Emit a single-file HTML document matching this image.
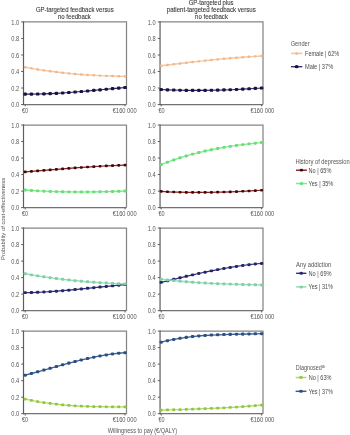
<!DOCTYPE html><html><head><meta charset="utf-8"><style>html,body{margin:0;padding:0;background:#fff;width:350px;height:435px;overflow:hidden}svg{display:block;filter:blur(0.25px)}text{font-family:"Liberation Sans",sans-serif;fill:#555555}</style></head><body>
<svg width="350" height="435" viewBox="0 0 350 435">
<text x="74.80" y="11.80" font-size="6.6" text-anchor="middle" textLength="77.8" lengthAdjust="spacingAndGlyphs" style="fill:#383838;stroke:#383838;stroke-width:0.1px">GP-targeted feedback versus</text>
<text x="74.40" y="18.70" font-size="6.6" text-anchor="middle" textLength="32.8" lengthAdjust="spacingAndGlyphs" style="fill:#383838;stroke:#383838;stroke-width:0.1px">no feedback</text>
<text x="211.10" y="4.60" font-size="6.6" text-anchor="middle" textLength="44.8" lengthAdjust="spacingAndGlyphs" style="fill:#383838;stroke:#383838;stroke-width:0.1px">GP-targeted plus</text>
<text x="211.30" y="11.65" font-size="6.6" text-anchor="middle" textLength="89.0" lengthAdjust="spacingAndGlyphs" style="fill:#383838;stroke:#383838;stroke-width:0.1px">patient-targeted feedback versus</text>
<text x="211.50" y="18.60" font-size="6.6" text-anchor="middle" textLength="32.8" lengthAdjust="spacingAndGlyphs" style="fill:#383838;stroke:#383838;stroke-width:0.1px">no feedback</text>
<path d="M23.50 21.95H126.50V104.55" fill="none" stroke="#858585" stroke-width="1.25"/>
<path d="M23.50 104.55H126.50" fill="none" stroke="#727272" stroke-width="1.2"/>
<path d="M23.50 21.35V105.15" fill="none" stroke="#5e5e5e" stroke-width="1.2"/>
<path d="M21.20 104.55H23.50" stroke="#5e5e5e" stroke-width="1"/>
<text x="19.20" y="107.10" font-size="6.3" text-anchor="end" textLength="7.9" lengthAdjust="spacingAndGlyphs">0.0</text>
<path d="M21.20 88.03H23.50" stroke="#5e5e5e" stroke-width="1"/>
<text x="19.20" y="90.58" font-size="6.3" text-anchor="end" textLength="7.9" lengthAdjust="spacingAndGlyphs">0.2</text>
<path d="M21.20 71.51H23.50" stroke="#5e5e5e" stroke-width="1"/>
<text x="19.20" y="74.06" font-size="6.3" text-anchor="end" textLength="7.9" lengthAdjust="spacingAndGlyphs">0.4</text>
<path d="M21.20 54.99H23.50" stroke="#5e5e5e" stroke-width="1"/>
<text x="19.20" y="57.54" font-size="6.3" text-anchor="end" textLength="7.9" lengthAdjust="spacingAndGlyphs">0.6</text>
<path d="M21.20 38.47H23.50" stroke="#5e5e5e" stroke-width="1"/>
<text x="19.20" y="41.02" font-size="6.3" text-anchor="end" textLength="7.9" lengthAdjust="spacingAndGlyphs">0.8</text>
<path d="M21.20 21.95H23.50" stroke="#5e5e5e" stroke-width="1"/>
<text x="19.20" y="24.50" font-size="6.3" text-anchor="end" textLength="7.9" lengthAdjust="spacingAndGlyphs">1.0</text>
<path d="M25.20 104.55V106.35" stroke="#5e5e5e" stroke-width="1"/>
<path d="M125.00 104.55V106.35" stroke="#5e5e5e" stroke-width="1"/>
<text x="22.00" y="113.15" font-size="6.3" text-anchor="start" textLength="6.1" lengthAdjust="spacingAndGlyphs">€0</text>
<text x="124.70" y="113.05" font-size="6.5" text-anchor="middle" textLength="23.8" lengthAdjust="spacingAndGlyphs">€160 000</text>
<path d="M25.20 67.26 L31.44 68.40 L37.67 69.44 L43.91 70.40 L50.15 71.27 L56.39 72.06 L62.62 72.77 L68.86 73.40 L75.10 73.97 L81.34 74.46 L87.58 74.90 L93.81 75.27 L100.05 75.58 L106.29 75.85 L112.53 76.06 L118.76 76.23 L125.00 76.35" fill="none" stroke="#f6c8a2" stroke-width="1.4"/>
<rect x="23.84" y="66.06" width="2.73" height="2.39" rx="0.91" fill="#f2b88c"/>
<rect x="30.07" y="67.20" width="2.73" height="2.39" rx="0.91" fill="#f2b88c"/>
<rect x="36.31" y="68.25" width="2.73" height="2.39" rx="0.91" fill="#f2b88c"/>
<rect x="42.55" y="69.20" width="2.73" height="2.39" rx="0.91" fill="#f2b88c"/>
<rect x="48.78" y="70.07" width="2.73" height="2.39" rx="0.91" fill="#f2b88c"/>
<rect x="55.02" y="70.86" width="2.73" height="2.39" rx="0.91" fill="#f2b88c"/>
<rect x="61.26" y="71.57" width="2.73" height="2.39" rx="0.91" fill="#f2b88c"/>
<rect x="67.50" y="72.21" width="2.73" height="2.39" rx="0.91" fill="#f2b88c"/>
<rect x="73.73" y="72.77" width="2.73" height="2.39" rx="0.91" fill="#f2b88c"/>
<rect x="79.97" y="73.27" width="2.73" height="2.39" rx="0.91" fill="#f2b88c"/>
<rect x="86.21" y="73.70" width="2.73" height="2.39" rx="0.91" fill="#f2b88c"/>
<rect x="92.45" y="74.07" width="2.73" height="2.39" rx="0.91" fill="#f2b88c"/>
<rect x="98.69" y="74.39" width="2.73" height="2.39" rx="0.91" fill="#f2b88c"/>
<rect x="104.92" y="74.65" width="2.73" height="2.39" rx="0.91" fill="#f2b88c"/>
<rect x="111.16" y="74.86" width="2.73" height="2.39" rx="0.91" fill="#f2b88c"/>
<rect x="117.40" y="75.03" width="2.73" height="2.39" rx="0.91" fill="#f2b88c"/>
<rect x="123.64" y="75.15" width="2.73" height="2.39" rx="0.91" fill="#f2b88c"/>
<path d="M25.20 94.11 L31.44 94.13 L37.67 94.06 L43.91 93.89 L50.15 93.65 L56.39 93.33 L62.62 92.95 L68.86 92.52 L75.10 92.04 L81.34 91.52 L87.58 90.97 L93.81 90.40 L100.05 89.82 L106.29 89.23 L112.53 88.65 L118.76 88.08 L125.00 87.54" fill="none" stroke="#2a2468" stroke-width="1.1"/>
<rect x="23.41" y="92.54" width="3.57" height="3.13" rx="1.19" fill="#18143f"/>
<rect x="29.65" y="92.57" width="3.57" height="3.13" rx="1.19" fill="#18143f"/>
<rect x="35.89" y="92.49" width="3.57" height="3.13" rx="1.19" fill="#18143f"/>
<rect x="42.13" y="92.33" width="3.57" height="3.13" rx="1.19" fill="#18143f"/>
<rect x="48.37" y="92.08" width="3.57" height="3.13" rx="1.19" fill="#18143f"/>
<rect x="54.60" y="91.77" width="3.57" height="3.13" rx="1.19" fill="#18143f"/>
<rect x="60.84" y="91.39" width="3.57" height="3.13" rx="1.19" fill="#18143f"/>
<rect x="67.08" y="90.95" width="3.57" height="3.13" rx="1.19" fill="#18143f"/>
<rect x="73.31" y="90.47" width="3.57" height="3.13" rx="1.19" fill="#18143f"/>
<rect x="79.55" y="89.96" width="3.57" height="3.13" rx="1.19" fill="#18143f"/>
<rect x="85.79" y="89.41" width="3.57" height="3.13" rx="1.19" fill="#18143f"/>
<rect x="92.03" y="88.84" width="3.57" height="3.13" rx="1.19" fill="#18143f"/>
<rect x="98.27" y="88.26" width="3.57" height="3.13" rx="1.19" fill="#18143f"/>
<rect x="104.50" y="87.67" width="3.57" height="3.13" rx="1.19" fill="#18143f"/>
<rect x="110.74" y="87.09" width="3.57" height="3.13" rx="1.19" fill="#18143f"/>
<rect x="116.98" y="86.52" width="3.57" height="3.13" rx="1.19" fill="#18143f"/>
<rect x="123.22" y="85.97" width="3.57" height="3.13" rx="1.19" fill="#18143f"/>
<path d="M160.05 21.95H263.00V104.55" fill="none" stroke="#858585" stroke-width="1.25"/>
<path d="M160.05 104.55H263.00" fill="none" stroke="#727272" stroke-width="1.2"/>
<path d="M160.05 21.35V105.15" fill="none" stroke="#5e5e5e" stroke-width="1.2"/>
<path d="M157.75 104.55H160.05" stroke="#5e5e5e" stroke-width="1"/>
<text x="155.75" y="107.10" font-size="6.3" text-anchor="end" textLength="7.9" lengthAdjust="spacingAndGlyphs">0.0</text>
<path d="M157.75 88.03H160.05" stroke="#5e5e5e" stroke-width="1"/>
<text x="155.75" y="90.58" font-size="6.3" text-anchor="end" textLength="7.9" lengthAdjust="spacingAndGlyphs">0.2</text>
<path d="M157.75 71.51H160.05" stroke="#5e5e5e" stroke-width="1"/>
<text x="155.75" y="74.06" font-size="6.3" text-anchor="end" textLength="7.9" lengthAdjust="spacingAndGlyphs">0.4</text>
<path d="M157.75 54.99H160.05" stroke="#5e5e5e" stroke-width="1"/>
<text x="155.75" y="57.54" font-size="6.3" text-anchor="end" textLength="7.9" lengthAdjust="spacingAndGlyphs">0.6</text>
<path d="M157.75 38.47H160.05" stroke="#5e5e5e" stroke-width="1"/>
<text x="155.75" y="41.02" font-size="6.3" text-anchor="end" textLength="7.9" lengthAdjust="spacingAndGlyphs">0.8</text>
<path d="M157.75 21.95H160.05" stroke="#5e5e5e" stroke-width="1"/>
<text x="155.75" y="24.50" font-size="6.3" text-anchor="end" textLength="7.9" lengthAdjust="spacingAndGlyphs">1.0</text>
<path d="M161.20 104.55V106.35" stroke="#5e5e5e" stroke-width="1"/>
<path d="M261.60 104.55V106.35" stroke="#5e5e5e" stroke-width="1"/>
<text x="158.55" y="113.15" font-size="6.3" text-anchor="start" textLength="6.1" lengthAdjust="spacingAndGlyphs">€0</text>
<text x="262.40" y="113.05" font-size="6.5" text-anchor="middle" textLength="23.8" lengthAdjust="spacingAndGlyphs">€160 000</text>
<path d="M161.20 65.72 L167.47 64.96 L173.75 64.21 L180.03 63.47 L186.30 62.74 L192.57 62.03 L198.85 61.33 L205.12 60.66 L211.40 60.01 L217.68 59.38 L223.95 58.78 L230.23 58.22 L236.50 57.69 L242.78 57.20 L249.05 56.74 L255.33 56.33 L261.60 55.97" fill="none" stroke="#f6c8a2" stroke-width="1.4"/>
<rect x="159.83" y="64.52" width="2.73" height="2.39" rx="0.91" fill="#f2b88c"/>
<rect x="166.11" y="63.77" width="2.73" height="2.39" rx="0.91" fill="#f2b88c"/>
<rect x="172.38" y="63.02" width="2.73" height="2.39" rx="0.91" fill="#f2b88c"/>
<rect x="178.66" y="62.28" width="2.73" height="2.39" rx="0.91" fill="#f2b88c"/>
<rect x="184.94" y="61.55" width="2.73" height="2.39" rx="0.91" fill="#f2b88c"/>
<rect x="191.21" y="60.83" width="2.73" height="2.39" rx="0.91" fill="#f2b88c"/>
<rect x="197.48" y="60.14" width="2.73" height="2.39" rx="0.91" fill="#f2b88c"/>
<rect x="203.76" y="59.46" width="2.73" height="2.39" rx="0.91" fill="#f2b88c"/>
<rect x="210.03" y="58.81" width="2.73" height="2.39" rx="0.91" fill="#f2b88c"/>
<rect x="216.31" y="58.19" width="2.73" height="2.39" rx="0.91" fill="#f2b88c"/>
<rect x="222.59" y="57.59" width="2.73" height="2.39" rx="0.91" fill="#f2b88c"/>
<rect x="228.86" y="57.02" width="2.73" height="2.39" rx="0.91" fill="#f2b88c"/>
<rect x="235.13" y="56.49" width="2.73" height="2.39" rx="0.91" fill="#f2b88c"/>
<rect x="241.41" y="56.00" width="2.73" height="2.39" rx="0.91" fill="#f2b88c"/>
<rect x="247.69" y="55.55" width="2.73" height="2.39" rx="0.91" fill="#f2b88c"/>
<rect x="253.96" y="55.14" width="2.73" height="2.39" rx="0.91" fill="#f2b88c"/>
<rect x="260.24" y="54.77" width="2.73" height="2.39" rx="0.91" fill="#f2b88c"/>
<path d="M161.20 89.54 L167.47 89.83 L173.75 90.05 L180.03 90.22 L186.30 90.33 L192.57 90.39 L198.85 90.40 L205.12 90.35 L211.40 90.26 L217.68 90.12 L223.95 89.93 L230.23 89.71 L236.50 89.44 L242.78 89.14 L249.05 88.80 L255.33 88.43 L261.60 88.03" fill="none" stroke="#2a2468" stroke-width="1.1"/>
<rect x="159.41" y="87.98" width="3.57" height="3.13" rx="1.19" fill="#18143f"/>
<rect x="165.69" y="88.26" width="3.57" height="3.13" rx="1.19" fill="#18143f"/>
<rect x="171.97" y="88.49" width="3.57" height="3.13" rx="1.19" fill="#18143f"/>
<rect x="178.24" y="88.66" width="3.57" height="3.13" rx="1.19" fill="#18143f"/>
<rect x="184.52" y="88.77" width="3.57" height="3.13" rx="1.19" fill="#18143f"/>
<rect x="190.79" y="88.83" width="3.57" height="3.13" rx="1.19" fill="#18143f"/>
<rect x="197.06" y="88.83" width="3.57" height="3.13" rx="1.19" fill="#18143f"/>
<rect x="203.34" y="88.79" width="3.57" height="3.13" rx="1.19" fill="#18143f"/>
<rect x="209.62" y="88.69" width="3.57" height="3.13" rx="1.19" fill="#18143f"/>
<rect x="215.89" y="88.55" width="3.57" height="3.13" rx="1.19" fill="#18143f"/>
<rect x="222.17" y="88.37" width="3.57" height="3.13" rx="1.19" fill="#18143f"/>
<rect x="228.44" y="88.15" width="3.57" height="3.13" rx="1.19" fill="#18143f"/>
<rect x="234.72" y="87.88" width="3.57" height="3.13" rx="1.19" fill="#18143f"/>
<rect x="240.99" y="87.58" width="3.57" height="3.13" rx="1.19" fill="#18143f"/>
<rect x="247.27" y="87.24" width="3.57" height="3.13" rx="1.19" fill="#18143f"/>
<rect x="253.54" y="86.87" width="3.57" height="3.13" rx="1.19" fill="#18143f"/>
<rect x="259.81" y="86.46" width="3.57" height="3.13" rx="1.19" fill="#18143f"/>
<path d="M23.50 125.00H126.50V207.60" fill="none" stroke="#858585" stroke-width="1.25"/>
<path d="M23.50 207.60H126.50" fill="none" stroke="#727272" stroke-width="1.2"/>
<path d="M23.50 124.40V208.20" fill="none" stroke="#5e5e5e" stroke-width="1.2"/>
<path d="M21.20 207.60H23.50" stroke="#5e5e5e" stroke-width="1"/>
<text x="19.20" y="210.15" font-size="6.3" text-anchor="end" textLength="7.9" lengthAdjust="spacingAndGlyphs">0.0</text>
<path d="M21.20 191.08H23.50" stroke="#5e5e5e" stroke-width="1"/>
<text x="19.20" y="193.63" font-size="6.3" text-anchor="end" textLength="7.9" lengthAdjust="spacingAndGlyphs">0.2</text>
<path d="M21.20 174.56H23.50" stroke="#5e5e5e" stroke-width="1"/>
<text x="19.20" y="177.11" font-size="6.3" text-anchor="end" textLength="7.9" lengthAdjust="spacingAndGlyphs">0.4</text>
<path d="M21.20 158.04H23.50" stroke="#5e5e5e" stroke-width="1"/>
<text x="19.20" y="160.59" font-size="6.3" text-anchor="end" textLength="7.9" lengthAdjust="spacingAndGlyphs">0.6</text>
<path d="M21.20 141.52H23.50" stroke="#5e5e5e" stroke-width="1"/>
<text x="19.20" y="144.07" font-size="6.3" text-anchor="end" textLength="7.9" lengthAdjust="spacingAndGlyphs">0.8</text>
<path d="M21.20 125.00H23.50" stroke="#5e5e5e" stroke-width="1"/>
<text x="19.20" y="127.55" font-size="6.3" text-anchor="end" textLength="7.9" lengthAdjust="spacingAndGlyphs">1.0</text>
<path d="M25.20 207.60V209.40" stroke="#5e5e5e" stroke-width="1"/>
<path d="M125.00 207.60V209.40" stroke="#5e5e5e" stroke-width="1"/>
<text x="22.00" y="216.20" font-size="6.3" text-anchor="start" textLength="6.1" lengthAdjust="spacingAndGlyphs">€0</text>
<text x="124.70" y="216.10" font-size="6.5" text-anchor="middle" textLength="23.8" lengthAdjust="spacingAndGlyphs">€160 000</text>
<path d="M25.20 171.94 L31.44 171.42 L37.67 170.90 L43.91 170.38 L50.15 169.86 L56.39 169.36 L62.62 168.86 L68.86 168.38 L75.10 167.91 L81.34 167.46 L87.58 167.03 L93.81 166.63 L100.05 166.25 L106.29 165.90 L112.53 165.58 L118.76 165.29 L125.00 165.04" fill="none" stroke="#951f1f" stroke-width="1.25"/>
<rect x="23.68" y="170.61" width="3.04" height="2.67" rx="1.01" fill="#3f090b"/>
<rect x="29.91" y="170.08" width="3.04" height="2.67" rx="1.01" fill="#3f090b"/>
<rect x="36.15" y="169.56" width="3.04" height="2.67" rx="1.01" fill="#3f090b"/>
<rect x="42.39" y="169.04" width="3.04" height="2.67" rx="1.01" fill="#3f090b"/>
<rect x="48.63" y="168.53" width="3.04" height="2.67" rx="1.01" fill="#3f090b"/>
<rect x="54.87" y="168.02" width="3.04" height="2.67" rx="1.01" fill="#3f090b"/>
<rect x="61.10" y="167.53" width="3.04" height="2.67" rx="1.01" fill="#3f090b"/>
<rect x="67.34" y="167.04" width="3.04" height="2.67" rx="1.01" fill="#3f090b"/>
<rect x="73.58" y="166.58" width="3.04" height="2.67" rx="1.01" fill="#3f090b"/>
<rect x="79.81" y="166.13" width="3.04" height="2.67" rx="1.01" fill="#3f090b"/>
<rect x="86.05" y="165.70" width="3.04" height="2.67" rx="1.01" fill="#3f090b"/>
<rect x="92.29" y="165.29" width="3.04" height="2.67" rx="1.01" fill="#3f090b"/>
<rect x="98.53" y="164.91" width="3.04" height="2.67" rx="1.01" fill="#3f090b"/>
<rect x="104.77" y="164.56" width="3.04" height="2.67" rx="1.01" fill="#3f090b"/>
<rect x="111.00" y="164.24" width="3.04" height="2.67" rx="1.01" fill="#3f090b"/>
<rect x="117.24" y="163.96" width="3.04" height="2.67" rx="1.01" fill="#3f090b"/>
<rect x="123.48" y="163.71" width="3.04" height="2.67" rx="1.01" fill="#3f090b"/>
<path d="M25.20 190.00 L31.44 190.46 L37.67 190.85 L43.91 191.17 L50.15 191.44 L56.39 191.64 L62.62 191.79 L68.86 191.89 L75.10 191.94 L81.34 191.95 L87.58 191.92 L93.81 191.86 L100.05 191.75 L106.29 191.62 L112.53 191.47 L118.76 191.29 L125.00 191.09" fill="none" stroke="#86e891" stroke-width="1.35"/>
<rect x="23.52" y="188.53" width="3.36" height="2.94" rx="1.12" fill="#66e077"/>
<rect x="29.76" y="188.99" width="3.36" height="2.94" rx="1.12" fill="#66e077"/>
<rect x="35.99" y="189.38" width="3.36" height="2.94" rx="1.12" fill="#66e077"/>
<rect x="42.23" y="189.70" width="3.36" height="2.94" rx="1.12" fill="#66e077"/>
<rect x="48.47" y="189.96" width="3.36" height="2.94" rx="1.12" fill="#66e077"/>
<rect x="54.71" y="190.17" width="3.36" height="2.94" rx="1.12" fill="#66e077"/>
<rect x="60.95" y="190.32" width="3.36" height="2.94" rx="1.12" fill="#66e077"/>
<rect x="67.18" y="190.42" width="3.36" height="2.94" rx="1.12" fill="#66e077"/>
<rect x="73.42" y="190.47" width="3.36" height="2.94" rx="1.12" fill="#66e077"/>
<rect x="79.66" y="190.48" width="3.36" height="2.94" rx="1.12" fill="#66e077"/>
<rect x="85.89" y="190.45" width="3.36" height="2.94" rx="1.12" fill="#66e077"/>
<rect x="92.13" y="190.38" width="3.36" height="2.94" rx="1.12" fill="#66e077"/>
<rect x="98.37" y="190.28" width="3.36" height="2.94" rx="1.12" fill="#66e077"/>
<rect x="104.61" y="190.15" width="3.36" height="2.94" rx="1.12" fill="#66e077"/>
<rect x="110.84" y="190.00" width="3.36" height="2.94" rx="1.12" fill="#66e077"/>
<rect x="117.08" y="189.82" width="3.36" height="2.94" rx="1.12" fill="#66e077"/>
<rect x="123.32" y="189.62" width="3.36" height="2.94" rx="1.12" fill="#66e077"/>
<path d="M160.05 125.00H263.00V207.60" fill="none" stroke="#858585" stroke-width="1.25"/>
<path d="M160.05 207.60H263.00" fill="none" stroke="#727272" stroke-width="1.2"/>
<path d="M160.05 124.40V208.20" fill="none" stroke="#5e5e5e" stroke-width="1.2"/>
<path d="M157.75 207.60H160.05" stroke="#5e5e5e" stroke-width="1"/>
<text x="155.75" y="210.15" font-size="6.3" text-anchor="end" textLength="7.9" lengthAdjust="spacingAndGlyphs">0.0</text>
<path d="M157.75 191.08H160.05" stroke="#5e5e5e" stroke-width="1"/>
<text x="155.75" y="193.63" font-size="6.3" text-anchor="end" textLength="7.9" lengthAdjust="spacingAndGlyphs">0.2</text>
<path d="M157.75 174.56H160.05" stroke="#5e5e5e" stroke-width="1"/>
<text x="155.75" y="177.11" font-size="6.3" text-anchor="end" textLength="7.9" lengthAdjust="spacingAndGlyphs">0.4</text>
<path d="M157.75 158.04H160.05" stroke="#5e5e5e" stroke-width="1"/>
<text x="155.75" y="160.59" font-size="6.3" text-anchor="end" textLength="7.9" lengthAdjust="spacingAndGlyphs">0.6</text>
<path d="M157.75 141.52H160.05" stroke="#5e5e5e" stroke-width="1"/>
<text x="155.75" y="144.07" font-size="6.3" text-anchor="end" textLength="7.9" lengthAdjust="spacingAndGlyphs">0.8</text>
<path d="M157.75 125.00H160.05" stroke="#5e5e5e" stroke-width="1"/>
<text x="155.75" y="127.55" font-size="6.3" text-anchor="end" textLength="7.9" lengthAdjust="spacingAndGlyphs">1.0</text>
<path d="M161.20 207.60V209.40" stroke="#5e5e5e" stroke-width="1"/>
<path d="M261.60 207.60V209.40" stroke="#5e5e5e" stroke-width="1"/>
<text x="158.55" y="216.20" font-size="6.3" text-anchor="start" textLength="6.1" lengthAdjust="spacingAndGlyphs">€0</text>
<text x="262.40" y="216.10" font-size="6.5" text-anchor="middle" textLength="23.8" lengthAdjust="spacingAndGlyphs">€160 000</text>
<path d="M161.20 191.44 L167.47 191.76 L173.75 192.02 L180.03 192.21 L186.30 192.34 L192.57 192.42 L198.85 192.44 L205.12 192.41 L211.40 192.32 L217.68 192.20 L223.95 192.03 L230.23 191.82 L236.50 191.57 L242.78 191.29 L249.05 190.97 L255.33 190.63 L261.60 190.25" fill="none" stroke="#951f1f" stroke-width="1.25"/>
<rect x="159.68" y="190.11" width="3.04" height="2.67" rx="1.01" fill="#3f090b"/>
<rect x="165.95" y="190.43" width="3.04" height="2.67" rx="1.01" fill="#3f090b"/>
<rect x="172.23" y="190.68" width="3.04" height="2.67" rx="1.01" fill="#3f090b"/>
<rect x="178.50" y="190.88" width="3.04" height="2.67" rx="1.01" fill="#3f090b"/>
<rect x="184.78" y="191.01" width="3.04" height="2.67" rx="1.01" fill="#3f090b"/>
<rect x="191.05" y="191.08" width="3.04" height="2.67" rx="1.01" fill="#3f090b"/>
<rect x="197.33" y="191.10" width="3.04" height="2.67" rx="1.01" fill="#3f090b"/>
<rect x="203.60" y="191.07" width="3.04" height="2.67" rx="1.01" fill="#3f090b"/>
<rect x="209.88" y="190.99" width="3.04" height="2.67" rx="1.01" fill="#3f090b"/>
<rect x="216.15" y="190.86" width="3.04" height="2.67" rx="1.01" fill="#3f090b"/>
<rect x="222.43" y="190.69" width="3.04" height="2.67" rx="1.01" fill="#3f090b"/>
<rect x="228.70" y="190.48" width="3.04" height="2.67" rx="1.01" fill="#3f090b"/>
<rect x="234.98" y="190.24" width="3.04" height="2.67" rx="1.01" fill="#3f090b"/>
<rect x="241.25" y="189.95" width="3.04" height="2.67" rx="1.01" fill="#3f090b"/>
<rect x="247.53" y="189.64" width="3.04" height="2.67" rx="1.01" fill="#3f090b"/>
<rect x="253.80" y="189.29" width="3.04" height="2.67" rx="1.01" fill="#3f090b"/>
<rect x="260.08" y="188.92" width="3.04" height="2.67" rx="1.01" fill="#3f090b"/>
<path d="M161.20 164.59 L167.47 162.16 L173.75 159.91 L180.03 157.83 L186.30 155.92 L192.57 154.15 L198.85 152.54 L205.12 151.06 L211.40 149.71 L217.68 148.48 L223.95 147.37 L230.23 146.36 L236.50 145.44 L242.78 144.62 L249.05 143.87 L255.33 143.20 L261.60 142.59" fill="none" stroke="#86e891" stroke-width="1.35"/>
<rect x="159.52" y="163.12" width="3.36" height="2.94" rx="1.12" fill="#66e077"/>
<rect x="165.79" y="160.69" width="3.36" height="2.94" rx="1.12" fill="#66e077"/>
<rect x="172.07" y="158.44" width="3.36" height="2.94" rx="1.12" fill="#66e077"/>
<rect x="178.34" y="156.36" width="3.36" height="2.94" rx="1.12" fill="#66e077"/>
<rect x="184.62" y="154.44" width="3.36" height="2.94" rx="1.12" fill="#66e077"/>
<rect x="190.89" y="152.68" width="3.36" height="2.94" rx="1.12" fill="#66e077"/>
<rect x="197.17" y="151.06" width="3.36" height="2.94" rx="1.12" fill="#66e077"/>
<rect x="203.44" y="149.59" width="3.36" height="2.94" rx="1.12" fill="#66e077"/>
<rect x="209.72" y="148.24" width="3.36" height="2.94" rx="1.12" fill="#66e077"/>
<rect x="216.00" y="147.01" width="3.36" height="2.94" rx="1.12" fill="#66e077"/>
<rect x="222.27" y="145.90" width="3.36" height="2.94" rx="1.12" fill="#66e077"/>
<rect x="228.55" y="144.89" width="3.36" height="2.94" rx="1.12" fill="#66e077"/>
<rect x="234.82" y="143.97" width="3.36" height="2.94" rx="1.12" fill="#66e077"/>
<rect x="241.10" y="143.15" width="3.36" height="2.94" rx="1.12" fill="#66e077"/>
<rect x="247.37" y="142.40" width="3.36" height="2.94" rx="1.12" fill="#66e077"/>
<rect x="253.65" y="141.73" width="3.36" height="2.94" rx="1.12" fill="#66e077"/>
<rect x="259.92" y="141.11" width="3.36" height="2.94" rx="1.12" fill="#66e077"/>
<path d="M23.50 228.05H126.50V310.65" fill="none" stroke="#858585" stroke-width="1.25"/>
<path d="M23.50 310.65H126.50" fill="none" stroke="#727272" stroke-width="1.2"/>
<path d="M23.50 227.45V311.25" fill="none" stroke="#5e5e5e" stroke-width="1.2"/>
<path d="M21.20 310.65H23.50" stroke="#5e5e5e" stroke-width="1"/>
<text x="19.20" y="313.20" font-size="6.3" text-anchor="end" textLength="7.9" lengthAdjust="spacingAndGlyphs">0.0</text>
<path d="M21.20 294.13H23.50" stroke="#5e5e5e" stroke-width="1"/>
<text x="19.20" y="296.68" font-size="6.3" text-anchor="end" textLength="7.9" lengthAdjust="spacingAndGlyphs">0.2</text>
<path d="M21.20 277.61H23.50" stroke="#5e5e5e" stroke-width="1"/>
<text x="19.20" y="280.16" font-size="6.3" text-anchor="end" textLength="7.9" lengthAdjust="spacingAndGlyphs">0.4</text>
<path d="M21.20 261.09H23.50" stroke="#5e5e5e" stroke-width="1"/>
<text x="19.20" y="263.64" font-size="6.3" text-anchor="end" textLength="7.9" lengthAdjust="spacingAndGlyphs">0.6</text>
<path d="M21.20 244.57H23.50" stroke="#5e5e5e" stroke-width="1"/>
<text x="19.20" y="247.12" font-size="6.3" text-anchor="end" textLength="7.9" lengthAdjust="spacingAndGlyphs">0.8</text>
<path d="M21.20 228.05H23.50" stroke="#5e5e5e" stroke-width="1"/>
<text x="19.20" y="230.60" font-size="6.3" text-anchor="end" textLength="7.9" lengthAdjust="spacingAndGlyphs">1.0</text>
<path d="M25.20 310.65V312.45" stroke="#5e5e5e" stroke-width="1"/>
<path d="M125.00 310.65V312.45" stroke="#5e5e5e" stroke-width="1"/>
<text x="22.00" y="319.25" font-size="6.3" text-anchor="start" textLength="6.1" lengthAdjust="spacingAndGlyphs">€0</text>
<text x="124.70" y="319.15" font-size="6.5" text-anchor="middle" textLength="23.8" lengthAdjust="spacingAndGlyphs">€160 000</text>
<path d="M25.20 292.66 L31.44 292.53 L37.67 292.32 L43.91 292.02 L50.15 291.65 L56.39 291.21 L62.62 290.71 L68.86 290.17 L75.10 289.59 L81.34 288.97 L87.58 288.34 L93.81 287.70 L100.05 287.05 L106.29 286.41 L112.53 285.78 L118.76 285.18 L125.00 284.61" fill="none" stroke="#33317a" stroke-width="1.2"/>
<rect x="23.52" y="291.18" width="3.36" height="2.94" rx="1.12" fill="#28266a"/>
<rect x="29.76" y="291.06" width="3.36" height="2.94" rx="1.12" fill="#28266a"/>
<rect x="35.99" y="290.85" width="3.36" height="2.94" rx="1.12" fill="#28266a"/>
<rect x="42.23" y="290.55" width="3.36" height="2.94" rx="1.12" fill="#28266a"/>
<rect x="48.47" y="290.17" width="3.36" height="2.94" rx="1.12" fill="#28266a"/>
<rect x="54.71" y="289.74" width="3.36" height="2.94" rx="1.12" fill="#28266a"/>
<rect x="60.95" y="289.24" width="3.36" height="2.94" rx="1.12" fill="#28266a"/>
<rect x="67.18" y="288.70" width="3.36" height="2.94" rx="1.12" fill="#28266a"/>
<rect x="73.42" y="288.11" width="3.36" height="2.94" rx="1.12" fill="#28266a"/>
<rect x="79.66" y="287.50" width="3.36" height="2.94" rx="1.12" fill="#28266a"/>
<rect x="85.89" y="286.87" width="3.36" height="2.94" rx="1.12" fill="#28266a"/>
<rect x="92.13" y="286.23" width="3.36" height="2.94" rx="1.12" fill="#28266a"/>
<rect x="98.37" y="285.58" width="3.36" height="2.94" rx="1.12" fill="#28266a"/>
<rect x="104.61" y="284.94" width="3.36" height="2.94" rx="1.12" fill="#28266a"/>
<rect x="110.84" y="284.31" width="3.36" height="2.94" rx="1.12" fill="#28266a"/>
<rect x="117.08" y="283.71" width="3.36" height="2.94" rx="1.12" fill="#28266a"/>
<rect x="123.32" y="283.14" width="3.36" height="2.94" rx="1.12" fill="#28266a"/>
<path d="M25.20 273.76 L31.44 274.85 L37.67 275.88 L43.91 276.84 L50.15 277.73 L56.39 278.56 L62.62 279.32 L68.86 280.02 L75.10 280.67 L81.34 281.26 L87.58 281.79 L93.81 282.27 L100.05 282.70 L106.29 283.09 L112.53 283.42 L118.76 283.72 L125.00 283.97" fill="none" stroke="#98dbb9" stroke-width="1.3"/>
<rect x="23.52" y="272.28" width="3.36" height="2.94" rx="1.12" fill="#7ed2a8"/>
<rect x="29.76" y="273.38" width="3.36" height="2.94" rx="1.12" fill="#7ed2a8"/>
<rect x="35.99" y="274.41" width="3.36" height="2.94" rx="1.12" fill="#7ed2a8"/>
<rect x="42.23" y="275.37" width="3.36" height="2.94" rx="1.12" fill="#7ed2a8"/>
<rect x="48.47" y="276.26" width="3.36" height="2.94" rx="1.12" fill="#7ed2a8"/>
<rect x="54.71" y="277.08" width="3.36" height="2.94" rx="1.12" fill="#7ed2a8"/>
<rect x="60.95" y="277.85" width="3.36" height="2.94" rx="1.12" fill="#7ed2a8"/>
<rect x="67.18" y="278.55" width="3.36" height="2.94" rx="1.12" fill="#7ed2a8"/>
<rect x="73.42" y="279.19" width="3.36" height="2.94" rx="1.12" fill="#7ed2a8"/>
<rect x="79.66" y="279.78" width="3.36" height="2.94" rx="1.12" fill="#7ed2a8"/>
<rect x="85.89" y="280.32" width="3.36" height="2.94" rx="1.12" fill="#7ed2a8"/>
<rect x="92.13" y="280.80" width="3.36" height="2.94" rx="1.12" fill="#7ed2a8"/>
<rect x="98.37" y="281.23" width="3.36" height="2.94" rx="1.12" fill="#7ed2a8"/>
<rect x="104.61" y="281.61" width="3.36" height="2.94" rx="1.12" fill="#7ed2a8"/>
<rect x="110.84" y="281.95" width="3.36" height="2.94" rx="1.12" fill="#7ed2a8"/>
<rect x="117.08" y="282.24" width="3.36" height="2.94" rx="1.12" fill="#7ed2a8"/>
<rect x="123.32" y="282.50" width="3.36" height="2.94" rx="1.12" fill="#7ed2a8"/>
<path d="M160.05 228.05H263.00V310.65" fill="none" stroke="#858585" stroke-width="1.25"/>
<path d="M160.05 310.65H263.00" fill="none" stroke="#727272" stroke-width="1.2"/>
<path d="M160.05 227.45V311.25" fill="none" stroke="#5e5e5e" stroke-width="1.2"/>
<path d="M157.75 310.65H160.05" stroke="#5e5e5e" stroke-width="1"/>
<text x="155.75" y="313.20" font-size="6.3" text-anchor="end" textLength="7.9" lengthAdjust="spacingAndGlyphs">0.0</text>
<path d="M157.75 294.13H160.05" stroke="#5e5e5e" stroke-width="1"/>
<text x="155.75" y="296.68" font-size="6.3" text-anchor="end" textLength="7.9" lengthAdjust="spacingAndGlyphs">0.2</text>
<path d="M157.75 277.61H160.05" stroke="#5e5e5e" stroke-width="1"/>
<text x="155.75" y="280.16" font-size="6.3" text-anchor="end" textLength="7.9" lengthAdjust="spacingAndGlyphs">0.4</text>
<path d="M157.75 261.09H160.05" stroke="#5e5e5e" stroke-width="1"/>
<text x="155.75" y="263.64" font-size="6.3" text-anchor="end" textLength="7.9" lengthAdjust="spacingAndGlyphs">0.6</text>
<path d="M157.75 244.57H160.05" stroke="#5e5e5e" stroke-width="1"/>
<text x="155.75" y="247.12" font-size="6.3" text-anchor="end" textLength="7.9" lengthAdjust="spacingAndGlyphs">0.8</text>
<path d="M157.75 228.05H160.05" stroke="#5e5e5e" stroke-width="1"/>
<text x="155.75" y="230.60" font-size="6.3" text-anchor="end" textLength="7.9" lengthAdjust="spacingAndGlyphs">1.0</text>
<path d="M161.20 310.65V312.45" stroke="#5e5e5e" stroke-width="1"/>
<path d="M261.60 310.65V312.45" stroke="#5e5e5e" stroke-width="1"/>
<text x="158.55" y="319.25" font-size="6.3" text-anchor="start" textLength="6.1" lengthAdjust="spacingAndGlyphs">€0</text>
<text x="262.40" y="319.15" font-size="6.5" text-anchor="middle" textLength="23.8" lengthAdjust="spacingAndGlyphs">€160 000</text>
<path d="M161.20 282.41 L167.47 280.86 L173.75 279.33 L180.03 277.82 L186.30 276.34 L192.57 274.91 L198.85 273.51 L205.12 272.17 L211.40 270.88 L217.68 269.65 L223.95 268.50 L230.23 267.42 L236.50 266.43 L242.78 265.53 L249.05 264.72 L255.33 264.02 L261.60 263.43" fill="none" stroke="#33317a" stroke-width="1.2"/>
<rect x="159.52" y="280.93" width="3.36" height="2.94" rx="1.12" fill="#28266a"/>
<rect x="165.79" y="279.39" width="3.36" height="2.94" rx="1.12" fill="#28266a"/>
<rect x="172.07" y="277.86" width="3.36" height="2.94" rx="1.12" fill="#28266a"/>
<rect x="178.34" y="276.35" width="3.36" height="2.94" rx="1.12" fill="#28266a"/>
<rect x="184.62" y="274.87" width="3.36" height="2.94" rx="1.12" fill="#28266a"/>
<rect x="190.89" y="273.43" width="3.36" height="2.94" rx="1.12" fill="#28266a"/>
<rect x="197.17" y="272.04" width="3.36" height="2.94" rx="1.12" fill="#28266a"/>
<rect x="203.44" y="270.69" width="3.36" height="2.94" rx="1.12" fill="#28266a"/>
<rect x="209.72" y="269.41" width="3.36" height="2.94" rx="1.12" fill="#28266a"/>
<rect x="216.00" y="268.18" width="3.36" height="2.94" rx="1.12" fill="#28266a"/>
<rect x="222.27" y="267.03" width="3.36" height="2.94" rx="1.12" fill="#28266a"/>
<rect x="228.55" y="265.95" width="3.36" height="2.94" rx="1.12" fill="#28266a"/>
<rect x="234.82" y="264.96" width="3.36" height="2.94" rx="1.12" fill="#28266a"/>
<rect x="241.10" y="264.05" width="3.36" height="2.94" rx="1.12" fill="#28266a"/>
<rect x="247.37" y="263.25" width="3.36" height="2.94" rx="1.12" fill="#28266a"/>
<rect x="253.65" y="262.55" width="3.36" height="2.94" rx="1.12" fill="#28266a"/>
<rect x="259.92" y="261.95" width="3.36" height="2.94" rx="1.12" fill="#28266a"/>
<path d="M161.20 279.24 L167.47 279.97 L173.75 280.64 L180.03 281.24 L186.30 281.77 L192.57 282.25 L198.85 282.67 L205.12 283.05 L211.40 283.38 L217.68 283.67 L223.95 283.92 L230.23 284.14 L236.50 284.34 L242.78 284.51 L249.05 284.66 L255.33 284.80 L261.60 284.93" fill="none" stroke="#98dbb9" stroke-width="1.3"/>
<rect x="159.52" y="277.76" width="3.36" height="2.94" rx="1.12" fill="#7ed2a8"/>
<rect x="165.79" y="278.50" width="3.36" height="2.94" rx="1.12" fill="#7ed2a8"/>
<rect x="172.07" y="279.17" width="3.36" height="2.94" rx="1.12" fill="#7ed2a8"/>
<rect x="178.34" y="279.76" width="3.36" height="2.94" rx="1.12" fill="#7ed2a8"/>
<rect x="184.62" y="280.30" width="3.36" height="2.94" rx="1.12" fill="#7ed2a8"/>
<rect x="190.89" y="280.78" width="3.36" height="2.94" rx="1.12" fill="#7ed2a8"/>
<rect x="197.17" y="281.20" width="3.36" height="2.94" rx="1.12" fill="#7ed2a8"/>
<rect x="203.44" y="281.58" width="3.36" height="2.94" rx="1.12" fill="#7ed2a8"/>
<rect x="209.72" y="281.91" width="3.36" height="2.94" rx="1.12" fill="#7ed2a8"/>
<rect x="216.00" y="282.20" width="3.36" height="2.94" rx="1.12" fill="#7ed2a8"/>
<rect x="222.27" y="282.45" width="3.36" height="2.94" rx="1.12" fill="#7ed2a8"/>
<rect x="228.55" y="282.67" width="3.36" height="2.94" rx="1.12" fill="#7ed2a8"/>
<rect x="234.82" y="282.87" width="3.36" height="2.94" rx="1.12" fill="#7ed2a8"/>
<rect x="241.10" y="283.04" width="3.36" height="2.94" rx="1.12" fill="#7ed2a8"/>
<rect x="247.37" y="283.19" width="3.36" height="2.94" rx="1.12" fill="#7ed2a8"/>
<rect x="253.65" y="283.33" width="3.36" height="2.94" rx="1.12" fill="#7ed2a8"/>
<rect x="259.92" y="283.46" width="3.36" height="2.94" rx="1.12" fill="#7ed2a8"/>
<path d="M23.50 331.10H126.50V413.70" fill="none" stroke="#858585" stroke-width="1.25"/>
<path d="M23.50 413.70H126.50" fill="none" stroke="#727272" stroke-width="1.2"/>
<path d="M23.50 330.50V414.30" fill="none" stroke="#5e5e5e" stroke-width="1.2"/>
<path d="M21.20 413.70H23.50" stroke="#5e5e5e" stroke-width="1"/>
<text x="19.20" y="416.25" font-size="6.3" text-anchor="end" textLength="7.9" lengthAdjust="spacingAndGlyphs">0.0</text>
<path d="M21.20 397.18H23.50" stroke="#5e5e5e" stroke-width="1"/>
<text x="19.20" y="399.73" font-size="6.3" text-anchor="end" textLength="7.9" lengthAdjust="spacingAndGlyphs">0.2</text>
<path d="M21.20 380.66H23.50" stroke="#5e5e5e" stroke-width="1"/>
<text x="19.20" y="383.21" font-size="6.3" text-anchor="end" textLength="7.9" lengthAdjust="spacingAndGlyphs">0.4</text>
<path d="M21.20 364.14H23.50" stroke="#5e5e5e" stroke-width="1"/>
<text x="19.20" y="366.69" font-size="6.3" text-anchor="end" textLength="7.9" lengthAdjust="spacingAndGlyphs">0.6</text>
<path d="M21.20 347.62H23.50" stroke="#5e5e5e" stroke-width="1"/>
<text x="19.20" y="350.17" font-size="6.3" text-anchor="end" textLength="7.9" lengthAdjust="spacingAndGlyphs">0.8</text>
<path d="M21.20 331.10H23.50" stroke="#5e5e5e" stroke-width="1"/>
<text x="19.20" y="333.65" font-size="6.3" text-anchor="end" textLength="7.9" lengthAdjust="spacingAndGlyphs">1.0</text>
<path d="M25.20 413.70V415.50" stroke="#5e5e5e" stroke-width="1"/>
<path d="M125.00 413.70V415.50" stroke="#5e5e5e" stroke-width="1"/>
<text x="22.00" y="422.30" font-size="6.3" text-anchor="start" textLength="6.1" lengthAdjust="spacingAndGlyphs">€0</text>
<text x="124.70" y="422.20" font-size="6.5" text-anchor="middle" textLength="23.8" lengthAdjust="spacingAndGlyphs">€160 000</text>
<path d="M25.20 399.12 L31.44 400.43 L37.67 401.58 L43.91 402.58 L50.15 403.45 L56.39 404.20 L62.62 404.83 L68.86 405.35 L75.10 405.77 L81.34 406.11 L87.58 406.37 L93.81 406.56 L100.05 406.69 L106.29 406.78 L112.53 406.82 L118.76 406.83 L125.00 406.82" fill="none" stroke="#aed963" stroke-width="1.25"/>
<rect x="23.62" y="397.74" width="3.15" height="2.76" rx="1.05" fill="#8fc83c"/>
<rect x="29.86" y="399.05" width="3.15" height="2.76" rx="1.05" fill="#8fc83c"/>
<rect x="36.10" y="400.20" width="3.15" height="2.76" rx="1.05" fill="#8fc83c"/>
<rect x="42.34" y="401.20" width="3.15" height="2.76" rx="1.05" fill="#8fc83c"/>
<rect x="48.57" y="402.07" width="3.15" height="2.76" rx="1.05" fill="#8fc83c"/>
<rect x="54.81" y="402.82" width="3.15" height="2.76" rx="1.05" fill="#8fc83c"/>
<rect x="61.05" y="403.45" width="3.15" height="2.76" rx="1.05" fill="#8fc83c"/>
<rect x="67.29" y="403.97" width="3.15" height="2.76" rx="1.05" fill="#8fc83c"/>
<rect x="73.52" y="404.39" width="3.15" height="2.76" rx="1.05" fill="#8fc83c"/>
<rect x="79.76" y="404.73" width="3.15" height="2.76" rx="1.05" fill="#8fc83c"/>
<rect x="86.00" y="404.99" width="3.15" height="2.76" rx="1.05" fill="#8fc83c"/>
<rect x="92.24" y="405.18" width="3.15" height="2.76" rx="1.05" fill="#8fc83c"/>
<rect x="98.47" y="405.31" width="3.15" height="2.76" rx="1.05" fill="#8fc83c"/>
<rect x="104.71" y="405.40" width="3.15" height="2.76" rx="1.05" fill="#8fc83c"/>
<rect x="110.95" y="405.44" width="3.15" height="2.76" rx="1.05" fill="#8fc83c"/>
<rect x="117.19" y="405.45" width="3.15" height="2.76" rx="1.05" fill="#8fc83c"/>
<rect x="123.42" y="405.44" width="3.15" height="2.76" rx="1.05" fill="#8fc83c"/>
<path d="M25.20 375.19 L31.44 373.50 L37.67 371.77 L43.91 370.03 L50.15 368.27 L56.39 366.53 L62.62 364.81 L68.86 363.14 L75.10 361.52 L81.34 359.98 L87.58 358.53 L93.81 357.19 L100.05 355.97 L106.29 354.89 L112.53 353.97 L118.76 353.23 L125.00 352.67" fill="none" stroke="#3a6193" stroke-width="1.3"/>
<rect x="23.47" y="373.67" width="3.46" height="3.04" rx="1.15" fill="#2b5080"/>
<rect x="29.70" y="371.98" width="3.46" height="3.04" rx="1.15" fill="#2b5080"/>
<rect x="35.94" y="370.26" width="3.46" height="3.04" rx="1.15" fill="#2b5080"/>
<rect x="42.18" y="368.51" width="3.46" height="3.04" rx="1.15" fill="#2b5080"/>
<rect x="48.42" y="366.75" width="3.46" height="3.04" rx="1.15" fill="#2b5080"/>
<rect x="54.66" y="365.01" width="3.46" height="3.04" rx="1.15" fill="#2b5080"/>
<rect x="60.89" y="363.29" width="3.46" height="3.04" rx="1.15" fill="#2b5080"/>
<rect x="67.13" y="361.62" width="3.46" height="3.04" rx="1.15" fill="#2b5080"/>
<rect x="73.37" y="360.00" width="3.46" height="3.04" rx="1.15" fill="#2b5080"/>
<rect x="79.60" y="358.46" width="3.46" height="3.04" rx="1.15" fill="#2b5080"/>
<rect x="85.84" y="357.01" width="3.46" height="3.04" rx="1.15" fill="#2b5080"/>
<rect x="92.08" y="355.67" width="3.46" height="3.04" rx="1.15" fill="#2b5080"/>
<rect x="98.32" y="354.45" width="3.46" height="3.04" rx="1.15" fill="#2b5080"/>
<rect x="104.55" y="353.38" width="3.46" height="3.04" rx="1.15" fill="#2b5080"/>
<rect x="110.79" y="352.46" width="3.46" height="3.04" rx="1.15" fill="#2b5080"/>
<rect x="117.03" y="351.71" width="3.46" height="3.04" rx="1.15" fill="#2b5080"/>
<rect x="123.27" y="351.15" width="3.46" height="3.04" rx="1.15" fill="#2b5080"/>
<path d="M160.05 331.10H263.00V413.70" fill="none" stroke="#858585" stroke-width="1.25"/>
<path d="M160.05 413.70H263.00" fill="none" stroke="#727272" stroke-width="1.2"/>
<path d="M160.05 330.50V414.30" fill="none" stroke="#5e5e5e" stroke-width="1.2"/>
<path d="M157.75 413.70H160.05" stroke="#5e5e5e" stroke-width="1"/>
<text x="155.75" y="416.25" font-size="6.3" text-anchor="end" textLength="7.9" lengthAdjust="spacingAndGlyphs">0.0</text>
<path d="M157.75 397.18H160.05" stroke="#5e5e5e" stroke-width="1"/>
<text x="155.75" y="399.73" font-size="6.3" text-anchor="end" textLength="7.9" lengthAdjust="spacingAndGlyphs">0.2</text>
<path d="M157.75 380.66H160.05" stroke="#5e5e5e" stroke-width="1"/>
<text x="155.75" y="383.21" font-size="6.3" text-anchor="end" textLength="7.9" lengthAdjust="spacingAndGlyphs">0.4</text>
<path d="M157.75 364.14H160.05" stroke="#5e5e5e" stroke-width="1"/>
<text x="155.75" y="366.69" font-size="6.3" text-anchor="end" textLength="7.9" lengthAdjust="spacingAndGlyphs">0.6</text>
<path d="M157.75 347.62H160.05" stroke="#5e5e5e" stroke-width="1"/>
<text x="155.75" y="350.17" font-size="6.3" text-anchor="end" textLength="7.9" lengthAdjust="spacingAndGlyphs">0.8</text>
<path d="M157.75 331.10H160.05" stroke="#5e5e5e" stroke-width="1"/>
<text x="155.75" y="333.65" font-size="6.3" text-anchor="end" textLength="7.9" lengthAdjust="spacingAndGlyphs">1.0</text>
<path d="M161.20 413.70V415.50" stroke="#5e5e5e" stroke-width="1"/>
<path d="M261.60 413.70V415.50" stroke="#5e5e5e" stroke-width="1"/>
<text x="158.55" y="422.30" font-size="6.3" text-anchor="start" textLength="6.1" lengthAdjust="spacingAndGlyphs">€0</text>
<text x="262.40" y="422.20" font-size="6.5" text-anchor="middle" textLength="23.8" lengthAdjust="spacingAndGlyphs">€160 000</text>
<path d="M161.20 410.10 L167.47 409.93 L173.75 409.75 L180.03 409.57 L186.30 409.37 L192.57 409.16 L198.85 408.93 L205.12 408.68 L211.40 408.41 L217.68 408.11 L223.95 407.79 L230.23 407.43 L236.50 407.04 L242.78 406.62 L249.05 406.15 L255.33 405.64 L261.60 405.08" fill="none" stroke="#aed963" stroke-width="1.25"/>
<rect x="159.62" y="408.72" width="3.15" height="2.76" rx="1.05" fill="#8fc83c"/>
<rect x="165.90" y="408.55" width="3.15" height="2.76" rx="1.05" fill="#8fc83c"/>
<rect x="172.18" y="408.37" width="3.15" height="2.76" rx="1.05" fill="#8fc83c"/>
<rect x="178.45" y="408.19" width="3.15" height="2.76" rx="1.05" fill="#8fc83c"/>
<rect x="184.73" y="407.99" width="3.15" height="2.76" rx="1.05" fill="#8fc83c"/>
<rect x="191.00" y="407.78" width="3.15" height="2.76" rx="1.05" fill="#8fc83c"/>
<rect x="197.28" y="407.55" width="3.15" height="2.76" rx="1.05" fill="#8fc83c"/>
<rect x="203.55" y="407.30" width="3.15" height="2.76" rx="1.05" fill="#8fc83c"/>
<rect x="209.83" y="407.03" width="3.15" height="2.76" rx="1.05" fill="#8fc83c"/>
<rect x="216.10" y="406.73" width="3.15" height="2.76" rx="1.05" fill="#8fc83c"/>
<rect x="222.38" y="406.41" width="3.15" height="2.76" rx="1.05" fill="#8fc83c"/>
<rect x="228.65" y="406.05" width="3.15" height="2.76" rx="1.05" fill="#8fc83c"/>
<rect x="234.93" y="405.66" width="3.15" height="2.76" rx="1.05" fill="#8fc83c"/>
<rect x="241.20" y="405.24" width="3.15" height="2.76" rx="1.05" fill="#8fc83c"/>
<rect x="247.48" y="404.77" width="3.15" height="2.76" rx="1.05" fill="#8fc83c"/>
<rect x="253.75" y="404.26" width="3.15" height="2.76" rx="1.05" fill="#8fc83c"/>
<rect x="260.03" y="403.70" width="3.15" height="2.76" rx="1.05" fill="#8fc83c"/>
<path d="M161.20 342.24 L167.47 340.71 L173.75 339.40 L180.03 338.29 L186.30 337.36 L192.57 336.59 L198.85 335.97 L205.12 335.48 L211.40 335.09 L217.68 334.79 L223.95 334.57 L230.23 334.39 L236.50 334.25 L242.78 334.13 L249.05 334.00 L255.33 333.84 L261.60 333.65" fill="none" stroke="#3a6193" stroke-width="1.3"/>
<rect x="159.47" y="340.72" width="3.46" height="3.04" rx="1.15" fill="#2b5080"/>
<rect x="165.74" y="339.19" width="3.46" height="3.04" rx="1.15" fill="#2b5080"/>
<rect x="172.02" y="337.88" width="3.46" height="3.04" rx="1.15" fill="#2b5080"/>
<rect x="178.29" y="336.77" width="3.46" height="3.04" rx="1.15" fill="#2b5080"/>
<rect x="184.57" y="335.84" width="3.46" height="3.04" rx="1.15" fill="#2b5080"/>
<rect x="190.84" y="335.07" width="3.46" height="3.04" rx="1.15" fill="#2b5080"/>
<rect x="197.12" y="334.45" width="3.46" height="3.04" rx="1.15" fill="#2b5080"/>
<rect x="203.39" y="333.96" width="3.46" height="3.04" rx="1.15" fill="#2b5080"/>
<rect x="209.67" y="333.57" width="3.46" height="3.04" rx="1.15" fill="#2b5080"/>
<rect x="215.94" y="333.28" width="3.46" height="3.04" rx="1.15" fill="#2b5080"/>
<rect x="222.22" y="333.05" width="3.46" height="3.04" rx="1.15" fill="#2b5080"/>
<rect x="228.49" y="332.87" width="3.46" height="3.04" rx="1.15" fill="#2b5080"/>
<rect x="234.77" y="332.73" width="3.46" height="3.04" rx="1.15" fill="#2b5080"/>
<rect x="241.04" y="332.61" width="3.46" height="3.04" rx="1.15" fill="#2b5080"/>
<rect x="247.32" y="332.48" width="3.46" height="3.04" rx="1.15" fill="#2b5080"/>
<rect x="253.59" y="332.33" width="3.46" height="3.04" rx="1.15" fill="#2b5080"/>
<rect x="259.87" y="332.13" width="3.46" height="3.04" rx="1.15" fill="#2b5080"/>
<text x="290.70" y="46.20" font-size="6.4" text-anchor="start" textLength="18.9" lengthAdjust="spacingAndGlyphs">Gender</text>
<path d="M291.00 53.40H302.30" stroke="#f6c8a2" stroke-width="1.60"/>
<ellipse cx="296.65" cy="53.40" rx="1.56" ry="1.23" fill="#f2b88c"/>
<text x="305.00" y="55.80" font-size="6.6" text-anchor="start" textLength="34.2" lengthAdjust="spacingAndGlyphs" style="fill:#4a4a4a">Female | 62%</text>
<path d="M291.00 66.70H302.30" stroke="#2a2468" stroke-width="1.30"/>
<ellipse cx="296.65" cy="66.70" rx="2.04" ry="1.61" fill="#18143f"/>
<text x="305.00" y="69.10" font-size="6.6" text-anchor="start" textLength="28.2" lengthAdjust="spacingAndGlyphs" style="fill:#4a4a4a">Male | 37%</text>
<text x="295.40" y="163.90" font-size="6.4" text-anchor="start" textLength="54.2" lengthAdjust="spacingAndGlyphs">History of depression</text>
<path d="M296.00 170.20H306.90" stroke="#951f1f" stroke-width="1.45"/>
<ellipse cx="301.45" cy="170.20" rx="1.74" ry="1.38" fill="#3f090b"/>
<text x="308.60" y="172.60" font-size="6.6" text-anchor="start" textLength="22.8" lengthAdjust="spacingAndGlyphs" style="fill:#4a4a4a">No | 65%</text>
<path d="M296.00 183.50H306.90" stroke="#86e891" stroke-width="1.55"/>
<ellipse cx="301.45" cy="183.50" rx="1.92" ry="1.52" fill="#66e077"/>
<text x="308.60" y="185.90" font-size="6.6" text-anchor="start" textLength="24.7" lengthAdjust="spacingAndGlyphs" style="fill:#4a4a4a">Yes | 35%</text>
<text x="296.10" y="266.60" font-size="6.4" text-anchor="start" textLength="35.1" lengthAdjust="spacingAndGlyphs">Any addiction</text>
<path d="M296.10 273.30H306.40" stroke="#33317a" stroke-width="1.40"/>
<ellipse cx="301.25" cy="273.30" rx="1.92" ry="1.52" fill="#28266a"/>
<text x="308.50" y="275.70" font-size="6.6" text-anchor="start" textLength="23.0" lengthAdjust="spacingAndGlyphs" style="fill:#4a4a4a">No | 69%</text>
<path d="M296.10 286.90H306.40" stroke="#98dbb9" stroke-width="1.50"/>
<ellipse cx="301.25" cy="286.90" rx="1.92" ry="1.52" fill="#7ed2a8"/>
<text x="308.50" y="289.30" font-size="6.6" text-anchor="start" textLength="24.4" lengthAdjust="spacingAndGlyphs" style="fill:#4a4a4a">Yes | 31%</text>
<text x="295.80" y="370.30" font-size="6.4" text-anchor="start" textLength="26.0" lengthAdjust="spacingAndGlyphs">Diagnosed</text>
<text x="322.10" y="368.10" font-size="4.8" text-anchor="start" textLength="2.7" lengthAdjust="spacingAndGlyphs">a</text>
<path d="M295.60 377.50H306.40" stroke="#aed963" stroke-width="1.45"/>
<ellipse cx="301.00" cy="377.50" rx="1.80" ry="1.42" fill="#8fc83c"/>
<text x="308.70" y="379.90" font-size="6.6" text-anchor="start" textLength="22.8" lengthAdjust="spacingAndGlyphs" style="fill:#4a4a4a">No | 63%</text>
<path d="M295.60 391.30H306.40" stroke="#3a6193" stroke-width="1.50"/>
<ellipse cx="301.00" cy="391.30" rx="1.98" ry="1.57" fill="#2b5080"/>
<text x="308.70" y="393.70" font-size="6.6" text-anchor="start" textLength="24.2" lengthAdjust="spacingAndGlyphs" style="fill:#4a4a4a">Yes | 37%</text>
<text x="142.40" y="433.20" font-size="6.3" text-anchor="middle" textLength="69.3" lengthAdjust="spacingAndGlyphs">Willingness to pay (€/QALY)</text>
<text x="0" y="0" font-size="5.9" text-anchor="middle" textLength="82.3" lengthAdjust="spacingAndGlyphs" transform="translate(5.3 218.95) rotate(-90)">Probability of cost-effectiveness</text>
</svg></body></html>
